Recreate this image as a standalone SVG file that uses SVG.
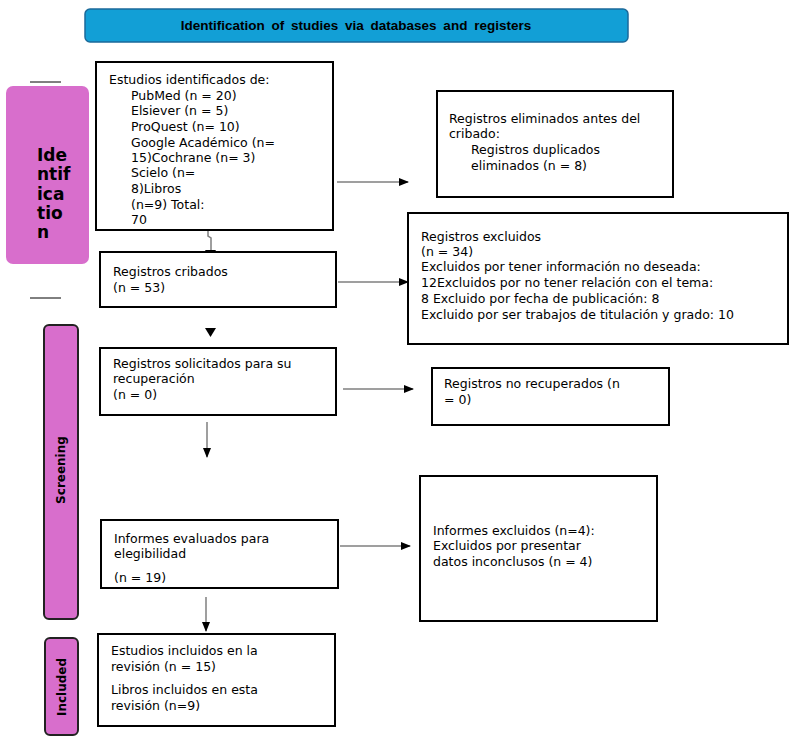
<svg xmlns="http://www.w3.org/2000/svg" width="791" height="737" viewBox="0 0 791 737">
<defs>
<marker id="ah" markerWidth="10" markerHeight="8" refX="9" refY="4" orient="auto" markerUnits="userSpaceOnUse">
<path d="M0,0 L10,4 L0,8 Z" fill="#000"/>
</marker>
<style>
.box{fill:#fff;stroke:#000;stroke-width:2}
.t{font-family:"DejaVu Sans",Verdana,sans-serif;font-size:12.5px;fill:#000}
.conn{stroke:#7f7f7f;stroke-width:1.5;fill:none}
.side{fill:#d86ecc;stroke:#222;stroke-width:2}
.lab{font-family:"DejaVu Sans",Verdana,sans-serif;font-weight:bold;fill:#000}
</style>
</defs>
<rect width="791" height="737" fill="#fff"/>
<g id="header">
<rect x="85" y="9" width="543" height="33" rx="5" fill="#129fd6" stroke="#1b6a9a" stroke-width="1.5"/>
<text x="356" y="30" text-anchor="middle" font-family="Liberation Sans,Arial,sans-serif" font-weight="bold" font-size="13.5" word-spacing="3">Identification of studies via databases and registers</text>
</g>
<g id="phase-identification">
<line x1="30" y1="82" x2="61" y2="82" stroke="#000" stroke-width="1"/>
<line x1="30" y1="298" x2="61" y2="298" stroke="#000" stroke-width="1"/>
<rect x="6" y="86" width="83" height="178" rx="7" fill="#d86ecc"/>
<text class="lab" font-size="17"><tspan x="37" y="161">Ide</tspan><tspan x="37" y="180">ntif</tspan><tspan x="37" y="200">ica</tspan><tspan x="37" y="219">tio</tspan><tspan x="37" y="238">n</tspan></text>
</g>
<g id="phase-screening">
<rect x="44" y="325" width="34" height="294" rx="5" class="side"/>
<text class="lab" font-size="12" transform="translate(65,470) rotate(-90)" text-anchor="middle">Screening</text>
</g>
<g id="phase-included">
<rect x="45" y="638" width="33" height="97" rx="5" class="side"/>
<text class="lab" font-size="12" transform="translate(66,687) rotate(-90)" text-anchor="middle">Included</text>
</g>
<g id="connectors">
<path class="conn" d="M208,228 V236 L211,238 V250"/>
<path d="M205,250 L216,250 L210.5,259 Z" fill="#000"/>
<line class="conn" x1="337" y1="182" x2="408" y2="182" marker-end="url(#ah)"/>
<line class="conn" x1="338" y1="282" x2="408" y2="282" marker-end="url(#ah)"/>
<path d="M205,328 L216,328 L210.5,337 Z" fill="#000"/>
<line class="conn" x1="343" y1="389" x2="413" y2="389" marker-end="url(#ah)"/>
<line class="conn" x1="207" y1="422" x2="207" y2="457" marker-end="url(#ah)"/>
<line class="conn" x1="340" y1="546" x2="410" y2="546" marker-end="url(#ah)"/>
<line class="conn" x1="206" y1="597" x2="206" y2="631" marker-end="url(#ah)"/>
</g>
<g id="n-identified">
<rect class="box" x="96" y="62" width="237" height="168"/>
<text class="t"><tspan x="109" y="84">Estudios identificados de:</tspan><tspan x="131" y="100">PubMed (n = 20)</tspan><tspan x="131" y="115">Elsiever (n = 5)</tspan><tspan x="131" y="131">ProQuest (n= 10)</tspan><tspan x="131" y="147">Google Académico (n=</tspan><tspan x="131" y="162">15)Cochrane (n= 3)</tspan><tspan x="131" y="177">Scielo (n=</tspan><tspan x="131" y="193">8)Libros</tspan><tspan x="131" y="209">(n=9) Total:</tspan><tspan x="131" y="224">70</tspan></text>
</g>
<g id="n-removed">
<rect class="box" x="437" y="91" width="236" height="106"/>
<text class="t"><tspan x="449" y="123">Registros eliminados antes del</tspan><tspan x="449" y="138">cribado:</tspan><tspan x="471" y="154">Registros duplicados</tspan><tspan x="471" y="170">eliminados (n = 8)</tspan></text>
</g>
<g id="n-screened">
<rect class="box" x="100" y="252" width="236" height="55"/>
<text class="t"><tspan x="113" y="276">Registros cribados</tspan><tspan x="113" y="292">(n = 53)</tspan></text>
</g>
<g id="n-excluded">
<rect class="box" x="408" y="213" width="380" height="131"/>
<text class="t"><tspan x="421" y="241">Registros excluidos</tspan><tspan x="421" y="256">(n = 34)</tspan><tspan x="421" y="271">Excluidos por tener información no deseada:</tspan><tspan x="421" y="287">12Excluidos por no tener relación con el tema:</tspan><tspan x="421" y="303">8 Excluido por fecha de publicación: 8</tspan><tspan x="421" y="319">Excluido por ser trabajos de titulación y grado: 10</tspan></text>
</g>
<g id="n-sought">
<rect class="box" x="100" y="348" width="236" height="67"/>
<text class="t"><tspan x="113" y="368">Registros solicitados para su</tspan><tspan x="113" y="383">recuperación</tspan><tspan x="113" y="399">(n = 0)</tspan></text>
</g>
<g id="n-not-retrieved">
<rect class="box" x="432" y="368" width="237" height="57"/>
<text class="t"><tspan x="444" y="388">Registros no recuperados (n</tspan><tspan x="444" y="404">= 0)</tspan></text>
</g>
<g id="n-assessed">
<rect class="box" x="101" y="520" width="237" height="68"/>
<text class="t"><tspan x="114" y="543">Informes evaluados para</tspan><tspan x="114" y="558">elegibilidad</tspan><tspan x="114" y="582">(n = 19)</tspan></text>
</g>
<g id="n-reports-excluded">
<rect class="box" x="420" y="476" width="237" height="145"/>
<text class="t"><tspan x="433" y="535">Informes excluidos (n=4):</tspan><tspan x="433" y="550">Excluidos por presentar</tspan><tspan x="433" y="566">datos inconclusos (n = 4)</tspan></text>
</g>
<g id="n-included">
<rect class="box" x="98" y="634" width="237" height="92"/>
<text class="t"><tspan x="111" y="655">Estudios incluidos en la</tspan><tspan x="111" y="671">revisión (n = 15)</tspan><tspan x="111" y="694">Libros incluidos en esta</tspan><tspan x="111" y="710">revisión (n=9)</tspan></text>
</g>
</svg>
